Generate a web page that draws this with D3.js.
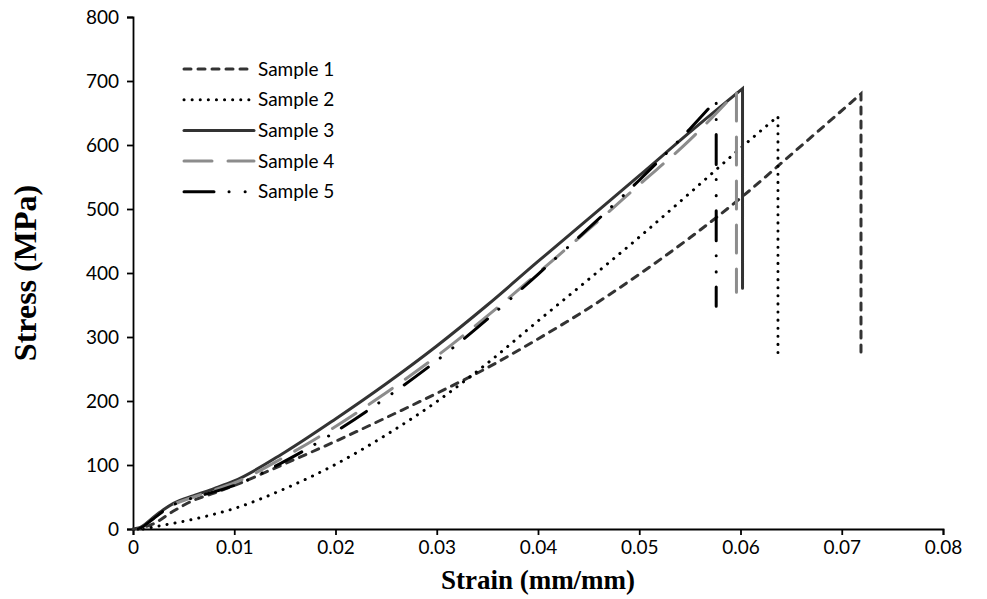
<!DOCTYPE html>
<html>
<head>
<meta charset="utf-8">
<script src="https://cdn.jsdelivr.net/npm/d3@7"></script>
<style>
  body { margin: 0; background: #fff; }
  svg { display: block; }
</style>
</head>
<body>
<div class="graph"></div>
<script>
// series: [strain, stress]
const sample1 = [[0, 0], [0.002, 8], [0.004, 28], [0.006, 45], [0.008, 56], [0.01, 68], [0.015, 102], [0.02, 137], [0.025, 174], [0.03, 212], [0.035, 252], [0.04, 297], [0.045, 345], [0.05, 398], [0.055, 455], [0.06, 517], [0.065, 585], [0.0719, 680]];
const sample2 = [[0.001, 0], [0.003, 6], [0.005, 12], [0.0075, 21], [0.01, 32], [0.015, 63], [0.02, 101], [0.025, 147], [0.03, 199], [0.035, 259], [0.04, 325], [0.045, 390], [0.05, 456], [0.055, 525], [0.06, 595], [0.0637, 645]];
const sample3 = [[0.0005, 0], [0.001, 5], [0.002, 18], [0.003, 30], [0.004, 40], [0.006, 52], [0.008, 63], [0.01, 75], [0.015, 120], [0.02, 172], [0.025, 227], [0.03, 286], [0.035, 350], [0.04, 418], [0.045, 485], [0.05, 552], [0.055, 620], [0.0602, 688]];
const sample4 = [[0.0005, 0], [0.001, 4], [0.002, 16], [0.003, 28], [0.004, 38], [0.006, 50], [0.008, 61], [0.01, 72], [0.015, 113], [0.02, 160], [0.025, 213], [0.03, 270], [0.035, 333], [0.04, 400], [0.045, 468], [0.05, 538], [0.055, 608], [0.0596, 683]];
const sample5 = [[0.0005, 0], [0.001, 4], [0.002, 16], [0.003, 28], [0.004, 38], [0.006, 49], [0.008, 58], [0.01, 68], [0.015, 106], [0.02, 152], [0.025, 205], [0.03, 263], [0.035, 328], [0.04, 398], [0.045, 470], [0.05, 545], [0.055, 625], [0.0576, 670]];
const dropStress = [268, 272, 376, 370, 348];

const names = ["Sample 1", "Sample 2", "Sample 3", "Sample 4", "Sample 5"];
const colors = ["#333333", "#000000", "#333333", "#8c8c8c", "#000000"];
const dashes = ["7,7", "0.1,8", null, "28,16", "30,15,0.1,16,0.1,15"];

const xTicks = [0, 0.01, 0.02, 0.03, 0.04, 0.05, 0.06, 0.07, 0.08];
const yTicks = [0, 100, 200, 300, 400, 500, 600, 700, 800];

const width = 987;
const height = 599;
const margin = { top: 17, right: 44, bottom: 70, left: 133 };

const svg = d3.select(".graph")
  .append("svg")
  .attr("width", width)
  .attr("height", height)
  .attr("viewBox", [0, 0, width, height]);

const x = d3.scaleLinear().domain([0, 0.08]).range([margin.left, width - margin.right]);
const y = d3.scaleLinear().domain([0, 800]).range([height - margin.bottom, margin.top]);

const tickFont = "Lato, 'Open Sans', sans-serif";

// axes
svg.append("g")
  .attr("transform", `translate(0,${y(0)})`)
  .call(d3.axisBottom(x).tickValues(xTicks).tickFormat(d3.format("")).tickSize(6).tickPadding(6))
  .call((g) => g.selectAll("path,line").attr("stroke", "#000").attr("stroke-width", 1.8))
  .call((g) => g.selectAll("text").attr("font-family", tickFont).attr("font-size", 19).attr("fill", "#000"));

svg.append("g")
  .attr("transform", `translate(${x(0)},0)`)
  .call(d3.axisLeft(y).tickValues(yTicks).tickSize(6).tickPadding(8))
  .call((g) => g.selectAll("path,line").attr("stroke", "#000").attr("stroke-width", 1.8))
  .call((g) => g.selectAll("text").attr("font-family", tickFont).attr("font-size", 19).attr("fill", "#000"));

// axis titles
svg.append("text")
  .attr("x", (x(0) + x(0.08)) / 2)
  .attr("y", 589)
  .attr("text-anchor", "middle")
  .attr("font-family", "'Liberation Serif', serif")
  .attr("font-weight", "bold")
  .attr("font-size", 27)
  .text("Strain (mm/mm)");

svg.append("text")
  .attr("transform", `translate(36,${(y(0) + y(800)) / 2}) rotate(-90)`)
  .attr("text-anchor", "middle")
  .attr("font-family", "'Liberation Serif', serif")
  .attr("font-weight", "bold")
  .attr("font-size", 32)
  .text("Stress (MPa)");

// curves, each ends with a vertical drop at fracture
const line = d3.line().x((d) => x(d[0])).y((d) => y(d[1])).curve(d3.curveMonotoneX);
const series = [sample1, sample2, sample3, sample4, sample5];

svg.append("g")
  .attr("fill", "none")
  .selectAll()
  .data(series)
  .join("path")
  .attr("d", (d, i) => {
    const last = d[d.length - 1];
    return line(d) + `L${x(last[0])},${y(dropStress[i])}`;
  })
  .attr("stroke", (d, i) => colors[i])
  .attr("stroke-width", 3)
  .attr("stroke-linecap", "round")
  .attr("stroke-dasharray", (d, i) => dashes[i]);

// legend
const legend = svg.append("g")
  .selectAll()
  .data(names)
  .join("g")
  .attr("transform", (d, i) => `translate(184,${69 + i * 30.7})`);

legend.append("line")
  .attr("x1", 0)
  .attr("x2", 70)
  .attr("stroke", (d, i) => colors[i])
  .attr("stroke-width", 3)
  .attr("stroke-linecap", "round")
  .attr("stroke-dasharray", (d, i) => dashes[i]);

legend.append("text")
  .attr("x", 74)
  .attr("dy", "0.35em")
  .attr("font-family", tickFont)
  .attr("font-size", 19)
  .text((d) => d);
</script>
</body>
</html>
